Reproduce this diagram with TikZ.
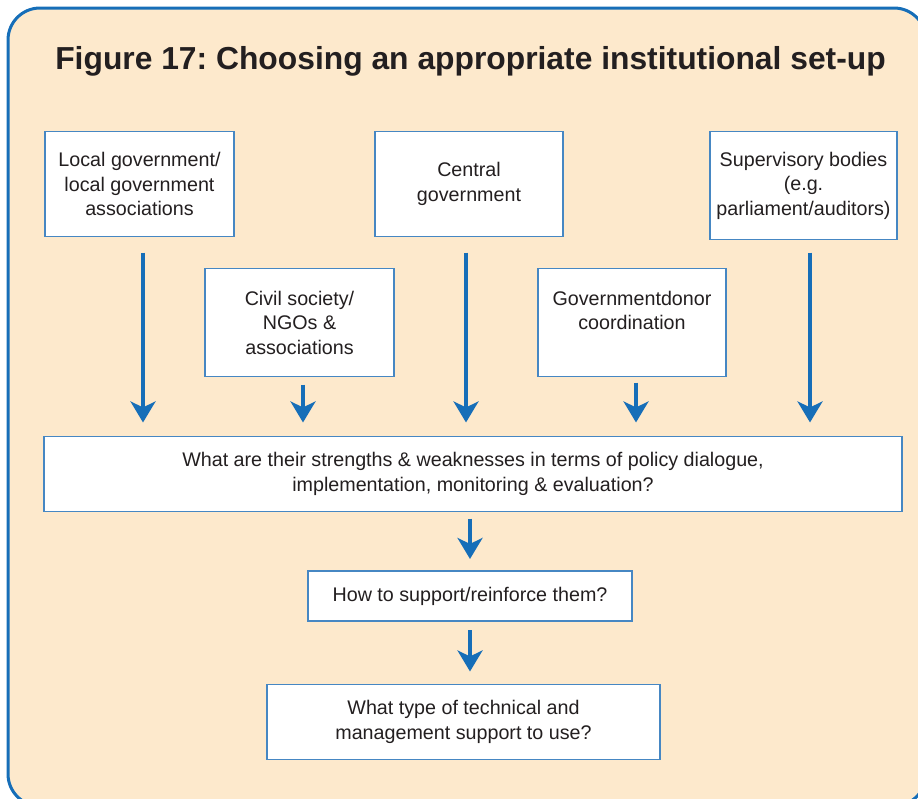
\documentclass[tikz,border=0pt]{standalone}
\usepackage{fontspec}
\setmainfont{Liberation Sans}
\usetikzlibrary{arrows.meta}
\frenchspacing
\definecolor{peach}{RGB}{253,233,204}
\definecolor{frameblue}{RGB}{22,110,184}
\definecolor{boxblue}{RGB}{70,135,195}
\definecolor{txt}{RGB}{35,31,32}
\tikzset{
  box/.style={draw=boxblue, line width=1.1pt, fill=white, inner sep=0pt, align=center,
    text=txt, font=\fontsize{19.7pt}{24.5pt}\selectfont},
  flowarrow/.style={draw=frameblue, line width=4pt,
    -{Stealth[length=21pt,width=25pt,inset=6pt]}},
}
\begin{document}
\begin{tikzpicture}[x=1pt,y=-1pt]
\useasboundingbox (0,0) rectangle (918,798);
\begin{scope}
\clip (0,0) rectangle (918,798);
\draw[frameblue, line width=3pt, fill=peach, rounded corners=32pt] (8,8) rectangle (926,806);
\end{scope}
\node[anchor=base, text=txt, font=\fontsize{31.8pt}{36pt}\selectfont\bfseries] (title) at (470.5,69.5) {Figure 17: Choosing an appropriate institutional set-up};

\node[box, minimum width=189pt, minimum height=105pt] (lg) at (139.5,184) {Local government/\\local government\\associations};
\node[box, minimum width=188pt, minimum height=105pt] (cg) at (469,184) {Central\\government};
\node[box, minimum width=187pt, minimum height=108pt] (sb) at (803.5,185.5) {Supervisory bodies\\(e.g.\\parliament/auditors)};
\node[box, minimum width=189pt, minimum height=108pt] (cs) at (299.5,322.5) {Civil society/\\NGOs \&\\associations};
\node[box, minimum width=188pt, minimum height=108pt] (gd) at (632,322.5) {Governmentdonor\\coordination\\\mbox{}};
\node[box, minimum width=858pt, minimum height=75pt] (sw) at (473,474) {What are their strengths \& weaknesses in terms of policy dialogue,\\implementation, monitoring \& evaluation?};
\node[box, minimum width=324pt, minimum height=50pt] (hs) at (470,596) {How to support/reinforce them?};
\node[box, minimum width=393pt, minimum height=75pt] (wt) at (463.5,722) {What type of technical and\\management support to use?};

\draw[flowarrow, shorten <=15.5pt, shorten >=13.5pt] ([xshift=3.5pt]lg.south) -- ([xshift=3.5pt]lg.south |- sw.north);
\draw[flowarrow, shorten <=15.5pt, shorten >=13.5pt] ([xshift=-3pt]cg.south) -- ([xshift=-3pt]cg.south |- sw.north);
\draw[flowarrow, shorten <=12.5pt, shorten >=13.5pt] ([xshift=6.5pt]sb.south) -- ([xshift=6.5pt]sb.south |- sw.north);
\draw[flowarrow, shorten <=7.5pt, shorten >=13.5pt] ([xshift=3.5pt]cs.south) -- ([xshift=3.5pt]cs.south |- sw.north);
\draw[flowarrow, shorten <=5.5pt, shorten >=13.5pt] ([xshift=4pt]gd.south) -- ([xshift=4pt]gd.south |- sw.north);
\draw[flowarrow, shorten <=6.5pt, shorten >=11.5pt] (sw.south -| hs.south) -- (hs.north);
\draw[flowarrow, shorten <=8.5pt, shorten >=12.5pt] (hs.south) -- (hs.south |- wt.north);
\end{tikzpicture}
\end{document}
